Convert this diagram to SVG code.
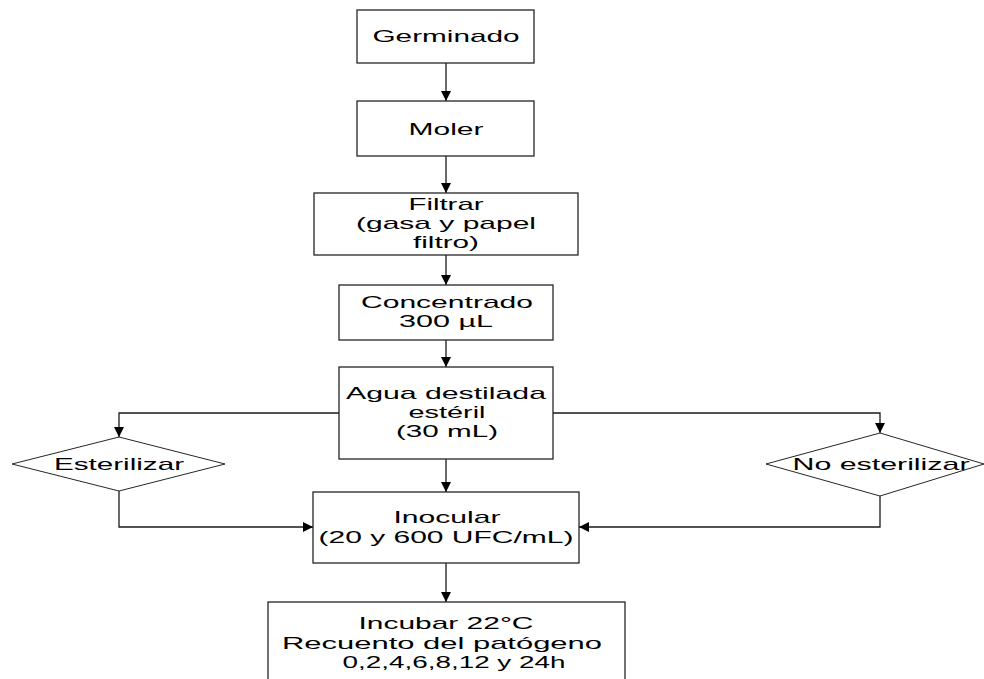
<svg xmlns="http://www.w3.org/2000/svg" width="984" height="679" viewBox="0 0 984 679">
  <style>
    .box { fill: #ffffff; stroke: #262626; stroke-width: 1.3; }
    .dia { fill: #ffffff; stroke: #262626; stroke-width: 1; }
    .lbl { font-family: "Liberation Sans", Arial, sans-serif; font-size: 17px; fill: #000000; text-anchor: middle; }
    .wire { fill: none; stroke: #1a1a1a; stroke-width: 1.3; }
  </style>
  <defs>
    <marker id="arrow" viewBox="0 0 10 10" refX="10" refY="5" markerWidth="10" markerHeight="10" markerUnits="userSpaceOnUse" orient="auto">
      <path d="M0,0 L10,5 L0,10 z" fill="#000000"/>
    </marker>
  </defs>
  <rect width="984" height="679" fill="#ffffff"/>

  <!-- connectors -->
  <g id="connectors">
    <path class="wire" d="M446,63 V101" marker-end="url(#arrow)"/>
    <path class="wire" d="M446,156 V193" marker-end="url(#arrow)"/>
    <path class="wire" d="M446,255 V285" marker-end="url(#arrow)"/>
    <path class="wire" d="M446,340 V367" marker-end="url(#arrow)"/>
    <path class="wire" d="M446,459 V492" marker-end="url(#arrow)"/>
    <path class="wire" d="M446,563 V602" marker-end="url(#arrow)"/>
    <path class="wire" d="M339,413 H119 V437" marker-end="url(#arrow)"/>
    <path class="wire" d="M553,413 H880 V433" marker-end="url(#arrow)"/>
    <path class="wire" d="M119,491 V527 H313" marker-end="url(#arrow)"/>
    <path class="wire" d="M880,496 V527 H579" marker-end="url(#arrow)"/>
  </g>

  <g id="germinado">
    <rect class="box" x="357" y="10" width="177" height="53"/>
    <text class="lbl" x="446" y="42" textLength="147" lengthAdjust="spacingAndGlyphs">Germinado</text>
  </g>

  <g id="moler">
    <rect class="box" x="357" y="101" width="177" height="55"/>
    <text class="lbl" x="446" y="135" textLength="75" lengthAdjust="spacingAndGlyphs">Moler</text>
  </g>

  <g id="filtrar">
    <rect class="box" x="314" y="193" width="264" height="62"/>
    <text class="lbl" x="446" y="210" textLength="75" lengthAdjust="spacingAndGlyphs">Filtrar</text>
    <text class="lbl" x="446" y="229" textLength="180" lengthAdjust="spacingAndGlyphs">(gasa y papel</text>
    <text class="lbl" x="446" y="248" textLength="66" lengthAdjust="spacingAndGlyphs">filtro)</text>
  </g>

  <g id="concentrado">
    <rect class="box" x="339" y="285" width="214" height="55"/>
    <text class="lbl" x="447" y="308" textLength="172" lengthAdjust="spacingAndGlyphs">Concentrado</text>
    <text class="lbl" x="446" y="327" textLength="94" lengthAdjust="spacingAndGlyphs">300 µL</text>
  </g>

  <g id="agua">
    <rect class="box" x="339" y="367" width="214" height="92"/>
    <text class="lbl" x="446" y="399" textLength="200" lengthAdjust="spacingAndGlyphs">Agua destilada</text>
    <text class="lbl" x="447" y="418" textLength="77" lengthAdjust="spacingAndGlyphs">estéril</text>
    <text class="lbl" x="447" y="437" textLength="102" lengthAdjust="spacingAndGlyphs">(30 mL)</text>
  </g>

  <g id="esterilizar">
    <polygon class="dia" points="12,464 119,437 225,464 119,491"/>
    <text class="lbl" x="119" y="470" textLength="130" lengthAdjust="spacingAndGlyphs">Esterilizar</text>
  </g>

  <g id="no-esterilizar">
    <polygon class="dia" points="766,464 880,433 984,464 880,496"/>
    <text class="lbl" x="881" y="470" textLength="177" lengthAdjust="spacingAndGlyphs">No esterilizar</text>
  </g>

  <g id="inocular">
    <rect class="box" x="313" y="492" width="266" height="71"/>
    <text class="lbl" x="447" y="523" textLength="107" lengthAdjust="spacingAndGlyphs">Inocular</text>
    <text class="lbl" x="446" y="543" textLength="255" lengthAdjust="spacingAndGlyphs">(20 y 600 UFC/mL)</text>
  </g>

  <g id="incubar">
    <rect class="box" x="268" y="602" width="357" height="80"/>
    <text class="lbl" x="446" y="629" textLength="175" lengthAdjust="spacingAndGlyphs">Incubar 22°C</text>
    <text class="lbl" x="442" y="649" textLength="320" lengthAdjust="spacingAndGlyphs">Recuento del patógeno</text>
    <text class="lbl" x="454" y="668" textLength="223" lengthAdjust="spacingAndGlyphs">0,2,4,6,8,12 y 24h</text>
  </g>
</svg>
